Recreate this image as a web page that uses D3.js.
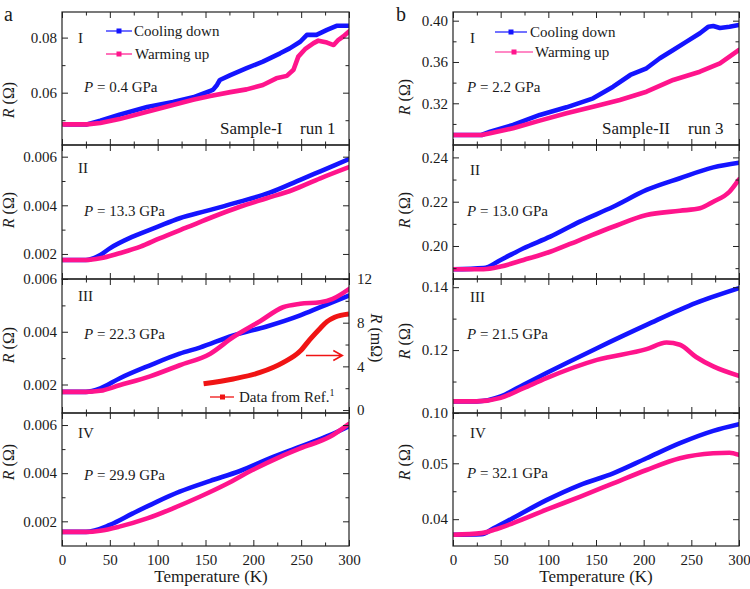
<!DOCTYPE html>
<html><head><meta charset="utf-8">
<script src="https://cdn.jsdelivr.net/npm/d3@7"></script>
<style>
body{margin:0;background:#fff}
svg{display:block}
text{font-family:"Liberation Serif","Times New Roman",serif;fill:#1a1a1a}
</style>
</head><body><svg id="c" width="750" height="589"></svg>
<script>
// ---------------- DATA ----------------
const tempTicks = [0, 50, 100, 150, 200, 250, 300];
const tempMinor = [25, 75, 125, 175, 225, 275];

// Panel a-I (Sample-I run 1, P = 0.4 GPa)
const a1CoolT = [2, 26, 40, 60, 89, 116, 137, 155, 158, 162, 165, 176, 193, 210, 228, 238, 249, 256, 266, 271, 277, 287, 299];
const a1CoolR = [0.0485, 0.0485, 0.0498, 0.0520, 0.0548, 0.0566, 0.0583, 0.0606, 0.0611, 0.0628, 0.0646, 0.0664, 0.0689, 0.0713, 0.0743, 0.0761, 0.0785, 0.0810, 0.0810, 0.0818, 0.0828, 0.0843, 0.0843];
const a1WarmT = [0, 26, 40, 60, 89, 116, 137, 155, 176, 193, 210, 224, 235, 242, 247, 254, 263, 268, 277, 284, 289, 294, 300];
const a1WarmR = [0.0485, 0.0485, 0.0490, 0.0504, 0.0531, 0.0555, 0.0574, 0.0588, 0.0602, 0.0612, 0.0628, 0.0652, 0.0661, 0.0683, 0.0731, 0.0758, 0.0780, 0.0789, 0.0782, 0.0773, 0.0792, 0.0804, 0.0822];

// Panel a-II (P = 13.3 GPa)
const a2CoolT = [0, 25, 40, 50, 74, 99, 123, 151, 186, 217, 249, 270, 300];
const a2CoolR = [0.00175, 0.00175, 0.00196, 0.00223, 0.00271, 0.0031, 0.00347, 0.00377, 0.00415, 0.00452, 0.00505, 0.0054, 0.0059];
const a2WarmT = [0, 25, 40, 60, 82, 102, 131, 158, 186, 214, 241, 270, 300];
const a2WarmR = [0.00175, 0.00175, 0.00182, 0.00203, 0.0023, 0.00264, 0.0031, 0.00353, 0.00394, 0.00429, 0.00463, 0.00511, 0.00557];

// Panel a-III (P = 22.3 GPa)
const a3CoolT = [0, 25, 40, 60, 92, 123, 144, 179, 214, 249, 270, 283, 300];
const a3CoolR = [0.00172, 0.00172, 0.00185, 0.00223, 0.00273, 0.00317, 0.0034, 0.00386, 0.0042, 0.00462, 0.00493, 0.00512, 0.00537];
const a3WarmT = [0, 25, 40, 60, 92, 123, 155, 179, 207, 231, 249, 270, 283, 300];
const a3WarmR = [0.00172, 0.00172, 0.00176, 0.00197, 0.00231, 0.00273, 0.00317, 0.0038, 0.0044, 0.00493, 0.00506, 0.00512, 0.00525, 0.00562];
// Data from Ref.1 (mΩ, right axis)
const refT = [148, 179, 207, 231, 249, 259, 270, 277, 285, 300];
const refR = [2.4, 2.85, 3.44, 4.34, 5.4, 6.45, 7.5, 8.1, 8.5, 8.8];

// Panel a-IV (P = 29.9 GPa)
const a4CoolT = [0, 25, 50, 74, 99, 123, 155, 186, 217, 249, 280, 300];
const a4CoolR = [0.00156, 0.00156, 0.00185, 0.00233, 0.00281, 0.00323, 0.00368, 0.00409, 0.00461, 0.0051, 0.00558, 0.00595];
const a4WarmT = [0, 25, 40, 60, 89, 116, 144, 172, 199, 228, 249, 280, 300];
const a4WarmR = [0.00156, 0.00156, 0.00161, 0.00178, 0.00212, 0.00254, 0.00302, 0.00355, 0.00413, 0.00468, 0.00503, 0.00551, 0.00605];

// Panel b-I (Sample-II run 3, P = 2.2 GPa)
const b1CoolT = [0, 30, 39, 63, 91, 119, 147, 168, 186, 203, 217, 231, 245, 259, 268, 273, 280, 290, 300];
const b1CoolR = [0.2893, 0.2893, 0.2925, 0.299, 0.3087, 0.3161, 0.3248, 0.3361, 0.3474, 0.3539, 0.3636, 0.3716, 0.3797, 0.3878, 0.3942, 0.3949, 0.3929, 0.3942, 0.3958];
const b1WarmT = [0, 30, 39, 63, 91, 119, 147, 175, 203, 231, 259, 280, 300];
const b1WarmR = [0.2893, 0.2893, 0.291, 0.2958, 0.3032, 0.3103, 0.3167, 0.3232, 0.3312, 0.3426, 0.3506, 0.3587, 0.3716];

// Panel b-II (P = 13.0 GPa)
const b2CoolT = [0, 32, 50, 74, 102, 133, 168, 203, 238, 273, 300];
const b2CoolR = [0.1895, 0.19, 0.1937, 0.199, 0.2042, 0.211, 0.2177, 0.2253, 0.2306, 0.2355, 0.2376];
const b2WarmT = [0, 32, 50, 74, 102, 133, 168, 203, 238, 259, 273, 290, 300];
const b2WarmR = [0.1895, 0.1895, 0.1907, 0.1937, 0.1974, 0.2027, 0.2087, 0.214, 0.2159, 0.217, 0.22, 0.2245, 0.2301];

// Panel b-III (P = 21.5 GPa)
const b3CoolT = [0, 25, 50, 74, 98, 151, 203, 255, 300];
const b3CoolR = [0.1037, 0.1037, 0.1053, 0.109, 0.1127, 0.1206, 0.128, 0.135, 0.1397];
const b3WarmT = [0, 25, 50, 74, 98, 151, 203, 224, 238, 255, 273, 300];
const b3WarmR = [0.1037, 0.1037, 0.1048, 0.1079, 0.1111, 0.1169, 0.1203, 0.1224, 0.1217, 0.1178, 0.1148, 0.1118];

// Panel b-IV (P = 32.1 GPa)
const b4CoolT = [0, 30, 43, 63, 98, 133, 168, 203, 238, 273, 300];
const b4CoolR = [0.0372, 0.0373, 0.0384, 0.0402, 0.0434, 0.0461, 0.0482, 0.0509, 0.0536, 0.0558, 0.057];
const b4WarmT = [0, 30, 43, 63, 98, 133, 168, 203, 238, 273, 290, 300];
const b4WarmR = [0.0372, 0.0375, 0.0381, 0.0393, 0.0417, 0.044, 0.0464, 0.0488, 0.0509, 0.0518, 0.0519, 0.0515];

// Y tick values
const a1Ticks = [0.06, 0.08], a1Minor = [0.05, 0.07];
const a2Ticks = [0.002, 0.004, 0.006], a2Minor = [0.003, 0.005];
const a3Ticks = [0.002, 0.004, 0.006], a3Minor = [0.003, 0.005];
const a3RightTicks = [0, 4, 8, 12], a3RightMinor = [2, 6, 10];
const a4Ticks = [0.002, 0.004, 0.006], a4Minor = [0.003, 0.005];
const b1Ticks = [0.32, 0.36, 0.40], b1Minor = [0.30, 0.34, 0.38];
const b2Ticks = [0.20, 0.22, 0.24], b2Minor = [0.19, 0.21, 0.23];
const b3Ticks = [0.10, 0.12, 0.14], b3Minor = [0.11, 0.13];
const b4Ticks = [0.04, 0.05], b4Minor = [0.045, 0.055];

const pressures = ["0.4", "13.3", "22.3", "29.9", "2.2", "13.0", "21.5", "32.1"];
const romans = ["I", "II", "III", "IV"];

// ---------------- DRAWING ----------------
const BLUE = "#1414ff", PINK = "#ff148c", RED = "#f01414", INK = "#222";
const svg = d3.select("#c");
const cols = [{x0: 62, x1: 349}, {x0: 453, x1: 739}];
const rowsY = [12, 145, 279, 413, 546];

const zip = (T, R) => T.map((t, i) => [t, R[i]]);

const panels = [
  {c:0, r:0, dom:[0.0410, 0.0893], ticks:a1Ticks, minor:a1Minor, fmt:".2f", cool:zip(a1CoolT,a1CoolR), warm:zip(a1WarmT,a1WarmR), smooth:false, p:0},
  {c:0, r:1, dom:[0.00097, 0.00648], ticks:a2Ticks, minor:a2Minor, fmt:".3f", cool:zip(a2CoolT,a2CoolR), warm:zip(a2WarmT,a2WarmR), smooth:true, p:1},
  {c:0, r:2, dom:[0.00092, 0.0060001], ticks:a3Ticks, minor:a3Minor, fmt:".3f", cool:zip(a3CoolT,a3CoolR), warm:zip(a3WarmT,a3WarmR), smooth:true, p:2},
  {c:0, r:3, dom:[0.000975, 0.0065], ticks:a4Ticks, minor:a4Minor, fmt:".3f", cool:zip(a4CoolT,a4CoolR), warm:zip(a4WarmT,a4WarmR), smooth:true, p:3},
  {c:1, r:0, dom:[0.2796, 0.4084], ticks:b1Ticks, minor:b1Minor, fmt:".2f", cool:zip(b1CoolT,b1CoolR), warm:zip(b1WarmT,b1WarmR), smooth:false, p:4},
  {c:1, r:1, dom:[0.1851, 0.2456], ticks:b2Ticks, minor:b2Minor, fmt:".2f", cool:zip(b2CoolT,b2CoolR), warm:zip(b2WarmT,b2WarmR), smooth:true, p:5},
  {c:1, r:2, dom:[0.0999999, 0.1426], ticks:b3Ticks, minor:b3Minor, fmt:".2f", cool:zip(b3CoolT,b3CoolR), warm:zip(b3WarmT,b3WarmR), smooth:true, p:6},
  {c:1, r:3, dom:[0.0352, 0.059], ticks:b4Ticks, minor:b4Minor, fmt:".2f", cool:zip(b4CoolT,b4CoolR), warm:zip(b4WarmT,b4WarmR), smooth:true, p:7}
];

const labelY = [[43,173,301,438],[43,175,302,438]];
const pY = [[92,216,339,480],[92,216,339,478]];
const rTitleY = [[100,210,345,462],[97,210,341,462]];

function styleAxis(g){
  g.select(".domain").remove();
  g.selectAll("line").attr("stroke", INK).attr("stroke-width", 1);
  g.selectAll("text").attr("font-size", 15).attr("fill", INK)
    .style("font-family", '"Liberation Serif","Times New Roman",serif');
}

const clipDefs = svg.append("defs");

panels.forEach((P, idx) => {
  const col = cols[P.c];
  const yt = rowsY[P.r], yb = rowsY[P.r + 1];
  const x = d3.scaleLinear([0, 300], [col.x0, col.x1]);
  const y = d3.scaleLinear(P.dom, [yb, yt]);
  const g = svg.append("g");

  clipDefs.append("clipPath").attr("id", "clip" + idx)
    .append("rect").attr("x", col.x0).attr("y", yt).attr("width", col.x1 - col.x0).attr("height", yb - yt);

  const line = d3.line().x(d => x(d[0])).y(d => y(d[1]))
    .curve(P.smooth ? d3.curveMonotoneX : d3.curveLinear);
  const cg = g.append("g").attr("clip-path", `url(#clip${idx})`);
  cg.append("path").datum(P.cool).attr("d", line).attr("fill", "none")
    .attr("stroke", BLUE).attr("stroke-width", 4.6).attr("stroke-linejoin", "round").attr("stroke-linecap", "round");
  cg.append("path").datum(P.warm).attr("d", line).attr("fill", "none")
    .attr("stroke", PINK).attr("stroke-width", 4.6).attr("stroke-linejoin", "round").attr("stroke-linecap", "round");

  // x axes (bottom & top), inward ticks
  const last = P.r === 3;
  g.append("g").attr("transform", `translate(0,${yb})`)
    .call(d3.axisBottom(x).tickValues(tempTicks).tickSize(-6).tickPadding(8).tickFormat(last ? d3.format("d") : () => ""))
    .call(styleAxis);
  g.append("g").attr("transform", `translate(0,${yb})`)
    .call(d3.axisBottom(x).tickValues(tempMinor).tickSize(-3.5).tickFormat(() => "")).call(styleAxis);
  g.append("g").attr("transform", `translate(0,${yt})`)
    .call(d3.axisTop(x).tickValues(tempTicks).tickSize(-6).tickFormat(() => "")).call(styleAxis);
  g.append("g").attr("transform", `translate(0,${yt})`)
    .call(d3.axisTop(x).tickValues(tempMinor).tickSize(-3.5).tickFormat(() => "")).call(styleAxis);

  // y axes
  g.append("g").attr("transform", `translate(${col.x0},0)`)
    .call(d3.axisLeft(y).tickValues(P.ticks).tickSize(-6).tickPadding(5).tickFormat(d3.format(P.fmt))).call(styleAxis);
  g.append("g").attr("transform", `translate(${col.x0},0)`)
    .call(d3.axisLeft(y).tickValues(P.minor).tickSize(-3.5).tickFormat(() => "")).call(styleAxis);

  if (P.p === 2) {
    // right axis in mΩ with reference data
    const y2 = d3.scaleLinear([-0.27, 12.0001], [yb, yt]);
    g.append("g").attr("transform", `translate(${col.x1},0)`)
      .call(d3.axisRight(y2).tickValues(a3RightTicks).tickSize(-6).tickPadding(8).tickFormat(d3.format("d"))).call(styleAxis);
    g.append("g").attr("transform", `translate(${col.x1},0)`)
      .call(d3.axisRight(y2).tickValues(a3RightMinor).tickSize(-3.5).tickFormat(() => "")).call(styleAxis);
    const line2 = d3.line().x(d => x(d[0])).y(d => y2(d[1])).curve(d3.curveMonotoneX);
    cg.append("path").datum(zip(refT, refR)).attr("d", line2).attr("fill", "none")
      .attr("stroke", RED).attr("stroke-width", 5).attr("stroke-linecap", "butt");
    // arrow pointing to right axis
    const ay = y2(5.0);
    const ax0 = x(255), ax1 = x(293);
    g.append("path").attr("d", `M${ax0},${ay}H${ax1}M${ax1-9},${ay-5}L${ax1},${ay}L${ax1-9},${ay+5}`)
      .attr("fill", "none").attr("stroke", RED).attr("stroke-width", 1.6);
    // legend for reference data
    const lx = 210, ly = 397;
    g.append("line").attr("x1", lx).attr("x2", lx + 24).attr("y1", ly).attr("y2", ly).attr("stroke", RED).attr("stroke-width", 1.3);
    g.append("rect").attr("x", lx + 10).attr("y", ly - 2.5).attr("width", 5).attr("height", 5).attr("fill", RED);
    const t = g.append("text").attr("x", lx + 29).attr("y", ly + 5).attr("font-size", 15);
    t.append("tspan").text("Data from Ref.");
    t.append("tspan").attr("font-size", 10).attr("dy", -6).text("1");
    g.append("text").attr("transform", `translate(371,338) rotate(90)`).attr("text-anchor", "middle")
      .attr("font-size", 16)
      .call(s => { s.append("tspan").attr("font-style", "italic").text("R"); s.append("tspan").text(" (mΩ)"); });
  } else {
    g.append("g").attr("transform", `translate(${col.x1},0)`)
      .call(d3.axisRight(y).tickValues(P.ticks).tickSize(-6).tickFormat(() => "")).call(styleAxis);
    g.append("g").attr("transform", `translate(${col.x1},0)`)
      .call(d3.axisRight(y).tickValues(P.minor).tickSize(-3.5).tickFormat(() => "")).call(styleAxis);
  }

  // frame
  g.append("rect").attr("x", col.x0).attr("y", yt).attr("width", col.x1 - col.x0).attr("height", yb - yt)
    .attr("fill", "none").attr("stroke", INK).attr("stroke-width", 1.2);

  // labels
  const lx = P.c === 0 ? 78 : 470;
  g.append("text").attr("x", lx).attr("y", labelY[P.c][P.r]).attr("font-size", 15).text(romans[P.r]);
  const px = P.c === 0 ? 84 : 467;
  const pt = g.append("text").attr("x", px).attr("y", pY[P.c][P.r]).attr("font-size", 15);
  pt.append("tspan").attr("font-style", "italic").text("P");
  pt.append("tspan").text(" = " + pressures[P.p] + " GPa");

  // y title
  const tx = P.c === 0 ? 14 : 410;
  g.append("text").attr("transform", `translate(${tx},${rTitleY[P.c][P.r]}) rotate(-90)`).attr("text-anchor", "middle")
    .attr("font-size", 16)
    .call(s => { s.append("tspan").attr("font-style", "italic").text("R"); s.append("tspan").text(" (Ω)"); });
});

// legends for cooling / warming
function legend(x0, len, yy, color, label, tx) {
  svg.append("line").attr("x1", x0).attr("x2", x0 + len).attr("y1", yy).attr("y2", yy).attr("stroke", color).attr("stroke-width", 1.2);
  svg.append("rect").attr("x", x0 + len / 2 - 2.5).attr("y", yy - 2.5).attr("width", 5).attr("height", 5).attr("fill", color);
  svg.append("text").attr("x", tx).attr("y", yy + 5).attr("font-size", 15).text(label);
}
legend(106, 26, 31, BLUE, "Cooling down", 134);
legend(106, 26, 54, PINK, "Warming up", 135);
legend(495, 32, 32, BLUE, "Cooling down", 530);
legend(495, 38, 52, PINK, "Warming up", 535);

// sample labels
svg.append("text").attr("x", 220).attr("y", 134).attr("font-size", 17).text("Sample-I");
svg.append("text").attr("x", 300).attr("y", 134).attr("font-size", 17).text("run 1");
svg.append("text").attr("x", 602).attr("y", 134).attr("font-size", 17).text("Sample-II");
svg.append("text").attr("x", 688).attr("y", 134).attr("font-size", 17).text("run 3");

// panel letters
svg.append("text").attr("x", 4).attr("y", 21).attr("font-size", 20).text("a");
svg.append("text").attr("x", 396).attr("y", 21).attr("font-size", 20).text("b");

// x titles
svg.append("text").attr("x", 211).attr("y", 582).attr("text-anchor", "middle").attr("font-size", 17).text("Temperature (K)");
svg.append("text").attr("x", 596).attr("y", 582).attr("text-anchor", "middle").attr("font-size", 17).text("Temperature (K)");
</script>
</body></html>
